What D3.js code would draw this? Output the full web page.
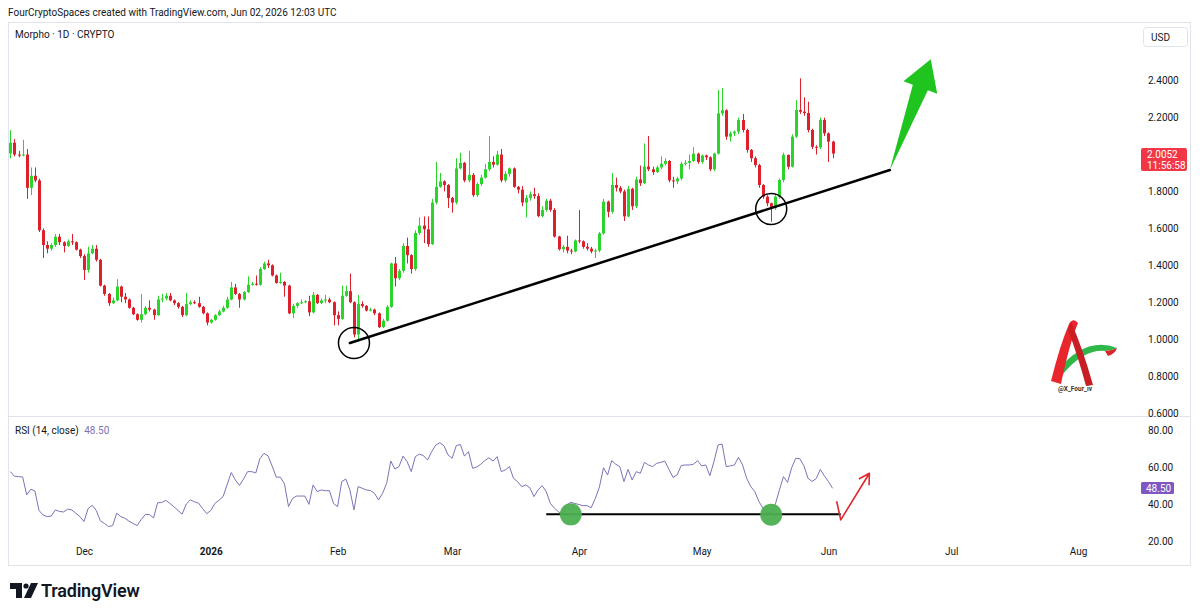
<!DOCTYPE html>
<html>
<head>
<meta charset="utf-8">
<script src="https://cdn.jsdelivr.net/npm/d3@7"></script>
<style>
  body { margin: 0; background: #fff; }
  svg { display: block; font-family: Roboto, "Noto Sans", sans-serif; }
</style>
</head>
<body>
<svg id="chart" width="1200" height="615"></svg>
<script>
// --- Data (daily candles, Morpho / USD) ---
const startDate = "2025-11-13";   // date of the first candle
const firstOpen = 2.006;          // every later open is the previous close

const closes = [
  2.064, 2.0, 1.995, 2.0, 1.82, 1.885, 1.86, 1.59, 1.51, 1.49,
  1.51, 1.555, 1.525, 1.505, 1.53, 1.525, 1.485, 1.45, 1.375, 1.465,
  1.49, 1.43, 1.29, 1.245, 1.195, 1.21, 1.285, 1.23, 1.215, 1.17,
  1.135, 1.105, 1.135, 1.17, 1.16, 1.13, 1.215, 1.22, 1.235, 1.21,
  1.195, 1.175, 1.13, 1.19, 1.2, 1.195, 1.175, 1.14, 1.09, 1.105,
  1.13, 1.15, 1.17, 1.215, 1.28, 1.245, 1.215, 1.255, 1.295, 1.3,
  1.295, 1.38, 1.41, 1.4, 1.345, 1.305, 1.31, 1.29, 1.14, 1.18,
  1.195, 1.2, 1.205, 1.145, 1.24, 1.195, 1.21, 1.215, 1.2, 1.13,
  1.11, 1.235, 1.26, 1.2, 1.025, 1.19, 1.18, 1.155, 1.16, 1.14,
  1.065, 1.1, 1.175, 1.41, 1.33, 1.37, 1.505, 1.455, 1.38, 1.575,
  1.615, 1.595, 1.515, 1.74, 1.825, 1.855, 1.835, 1.765, 1.74, 1.925,
  1.955, 1.86, 1.89, 1.78, 1.84, 1.875, 1.92, 1.96, 1.945, 2.0,
  1.86, 1.895, 1.925, 1.825, 1.81, 1.74, 1.765, 1.785, 1.775, 1.667,
  1.7, 1.75, 1.7, 1.556, 1.487, 1.5, 1.48, 1.475, 1.535, 1.53,
  1.5, 1.49, 1.475, 1.48, 1.573, 1.745, 1.69, 1.835, 1.82, 1.8,
  1.665, 1.815, 1.72, 1.865, 1.845, 1.935, 1.92, 1.905, 1.93, 1.95,
  1.965, 1.86, 1.855, 1.87, 1.95, 1.955, 1.965, 2.005, 1.96, 1.995,
  1.985, 1.92, 2.005, 2.223, 2.24, 2.097, 2.115, 2.124, 2.187, 2.133,
  2.025, 1.98, 1.943, 1.835, 1.772, 1.736, 1.709, 1.772, 1.862, 1.998,
  1.934, 2.097, 2.241, 2.232, 2.225, 2.133, 2.042, 2.039, 2.187, 2.115,
  2.07, 2.0052
];

const highs = [
  2.133, 2.084, 2.02, 2.08, 2.03, 1.93, 1.93, 1.87, 1.6, 1.53,
  1.52, 1.57, 1.57, 1.53, 1.54, 1.57, 1.53, 1.49, 1.46, 1.5,
  1.51, 1.51, 1.435, 1.295, 1.25, 1.225, 1.325, 1.29, 1.25, 1.22,
  1.175, 1.14, 1.245, 1.18, 1.21, 1.165, 1.235, 1.245, 1.25, 1.25,
  1.215, 1.2, 1.18, 1.25, 1.21, 1.21, 1.23, 1.18, 1.145, 1.11,
  1.135, 1.16, 1.18, 1.23, 1.31, 1.3, 1.25, 1.26, 1.34, 1.31,
  1.345, 1.39, 1.42, 1.43, 1.405, 1.35, 1.36, 1.315, 1.295, 1.19,
  1.2, 1.215, 1.21, 1.235, 1.255, 1.245, 1.22, 1.24, 1.225, 1.205,
  1.15, 1.29, 1.29, 1.355, 1.205, 1.24, 1.205, 1.185, 1.17, 1.165,
  1.145, 1.11, 1.185, 1.415, 1.445, 1.38, 1.52, 1.55, 1.46, 1.59,
  1.66, 1.665, 1.665, 1.76, 1.96, 1.9, 1.86, 1.84, 1.77, 1.98,
  2.01, 1.96, 2.02, 1.9, 1.85, 1.89, 1.95, 2.1, 1.99, 2.02,
  2.03, 1.91, 1.93, 1.93, 1.83, 1.83, 1.78, 1.8, 1.82, 1.79,
  1.72, 1.76, 1.76, 1.71, 1.56, 1.51, 1.56, 1.49, 1.54, 1.7,
  1.535, 1.52, 1.5, 1.49, 1.58, 1.76, 1.75, 1.9, 1.875, 1.83,
  1.81, 1.83, 1.82, 1.88, 1.94, 2.06, 2.1, 1.935, 1.94, 1.99,
  1.98, 1.97, 1.88, 1.88, 1.96, 1.97, 2.0, 2.04, 2.01, 2.0,
  2.0, 1.99, 2.01, 2.35, 2.36, 2.245, 2.125, 2.13, 2.2, 2.22,
  2.14, 2.03, 1.99, 1.95, 1.84, 1.78, 1.74, 1.78, 1.87, 2.01,
  2.0, 2.11, 2.295, 2.413, 2.31, 2.286, 2.14, 2.05, 2.2, 2.2,
  2.12, 2.075
];

const lows = [
  1.98, 1.99, 1.985, 1.99, 1.76, 1.78, 1.85, 1.58, 1.44, 1.465,
  1.48, 1.5, 1.51, 1.47, 1.5, 1.51, 1.48, 1.44, 1.32, 1.36,
  1.46, 1.42, 1.285, 1.235, 1.18, 1.19, 1.205, 1.2, 1.195, 1.165,
  1.13, 1.1, 1.09, 1.13, 1.15, 1.105, 1.125, 1.2, 1.21, 1.205,
  1.185, 1.165, 1.12, 1.125, 1.185, 1.19, 1.17, 1.135, 1.075, 1.085,
  1.1, 1.125, 1.145, 1.165, 1.21, 1.24, 1.17, 1.21, 1.25, 1.29,
  1.29, 1.29, 1.375, 1.385, 1.34, 1.3, 1.3, 1.23, 1.135, 1.115,
  1.17, 1.19, 1.195, 1.125, 1.14, 1.19, 1.19, 1.195, 1.195, 1.075,
  1.075, 1.105, 1.23, 1.195, 1.01, 0.985, 1.17, 1.15, 1.15, 1.13,
  1.06, 1.06, 1.095, 1.17, 1.285, 1.32, 1.36, 1.41, 1.355, 1.37,
  1.565, 1.52, 1.5, 1.51, 1.73, 1.82, 1.8, 1.71, 1.685, 1.73,
  1.92, 1.85, 1.85, 1.77, 1.77, 1.83, 1.87, 1.91, 1.93, 1.94,
  1.85, 1.85, 1.88, 1.82, 1.79, 1.72, 1.66, 1.75, 1.76, 1.66,
  1.66, 1.69, 1.69, 1.55, 1.48, 1.47, 1.465, 1.46, 1.47, 1.52,
  1.49, 1.48, 1.465, 1.44, 1.47, 1.565, 1.66, 1.68, 1.8, 1.79,
  1.64, 1.66, 1.7, 1.71, 1.83, 1.84, 1.91, 1.89, 1.9, 1.92,
  1.94, 1.85, 1.82, 1.84, 1.86, 1.94, 1.92, 1.96, 1.95, 1.95,
  1.97, 1.91, 1.91, 2.0, 2.21, 2.08, 2.07, 2.1, 2.11, 2.12,
  2.01, 1.96, 1.93, 1.82, 1.76, 1.72, 1.636, 1.7, 1.76, 1.85,
  1.92, 1.93, 2.09, 2.22, 2.21, 2.12, 2.03, 2.0, 2.03, 2.1,
  1.96, 1.98
];

// RSI (14, close), one value per candle
const rsiValues = [
  57.5, 55, 54.8, 54.6, 45, 48, 47, 36.5, 34, 33.2,
  33.5, 36.8, 36, 35.7, 37.2, 36.8, 35, 33.2, 30.5, 37.5,
  39.3, 36.5, 30.9, 29.5, 27.8, 28.3, 35, 33.2, 32.3, 30.7,
  29.5, 28.3, 31.7, 34.3, 34.3, 32.5, 40.7, 40.8, 42, 40.3,
  38.5, 36.5, 34.5, 40, 42.2, 41.2, 40.5, 37.5, 34.8, 36.5,
  40.3, 42, 44, 50.5, 57, 53, 50, 53.5, 57.5, 57.5,
  56.8, 64.5, 67.4, 66, 60.5, 54.5, 54.5, 51, 38.6, 43.1,
  44.3, 44.3, 44.3, 39.8, 50.3, 46.7, 47.6, 47.2, 47.2, 40.3,
  38.6, 52.1, 53.5, 47.6, 36.8, 49.4, 48.5, 47.6, 47.3, 45.8,
  42.2, 45.8, 51.2, 63.2, 58.9, 60.2, 65.9, 62.9, 57.5, 65.6,
  67, 66.1, 63.8, 68.3, 71.9, 73.1, 71.5, 66.5, 64.7, 71.5,
  72.2, 65.9, 68.3, 59.3, 60, 61.5, 63.5, 65, 63.2, 65.6,
  57.5, 58.4, 60.2, 53.9, 52.1, 49.4, 50.3, 48.8, 44, 47.6,
  49.9, 46.7, 40.4, 37.7, 35.8, 34.5, 39.5, 40.9, 40.3, 39.7,
  39.1, 39.1, 38, 43, 49.2, 59.6, 55.7, 63.4, 61.5, 60.2,
  52.1, 58.7, 53, 57.5, 56.6, 62.5, 61.1, 60.2, 62, 62.5,
  63.2, 58.7, 54.4, 55.7, 60.8, 61.1, 61.1, 61.5, 63.4, 60.6,
  61.1, 55.3, 62.9, 71.9, 72.4, 60.2, 60.6, 61.1, 65.2, 61.1,
  53.9, 49.4, 46.7, 41.3, 37.7, 35.3, 35.5, 39.8, 47.6, 54.8,
  51.7, 59.6, 64.7, 64.5, 60.6, 53.9, 52.2, 53.7, 58.7, 55.2,
  52.1, 48.5
];

// --- Axis ticks ---
const priceTicks = [0.6, 0.8, 1.0, 1.2, 1.4, 1.6, 1.8, 2.0, 2.2, 2.4];
const rsiTicks = [20, 40, 60, 80];
const monthTickDates = ["2025-12-01", "2026-01-01", "2026-02-01", "2026-03-01", "2026-04-01",
                        "2026-05-01", "2026-06-01", "2026-07-01", "2026-08-01"];
const monthTickLabels = ["Dec", "2026", "Feb", "Mar", "Apr", "May", "Jun", "Jul", "Aug"];

// --- Drawings on the chart (date, value) ---
const trendLine = [["2026-02-04", 0.979], ["2026-06-16", 1.916]];
const touchCircles = [["2026-02-05", 0.979], ["2026-05-18", 1.705]];
const bigArrow = [["2026-06-16", 1.916], ["2026-06-26", 2.516]];
const rsiSupport = [["2026-03-24", 34.4], ["2026-06-04", 34.4]];
const rsiDots = [["2026-03-30", 34.4], ["2026-05-18", 34.2]];
const rsiArrow = [["2026-06-03", 41.5], ["2026-06-04", 31.4], ["2026-06-11", 56.6]];

const lastPrice = "2.0052";
const countdown = "11:56:58";
const lastRsi = "48.50";

// --- Colours ---
const upColor = "#2bd42b";
const downColor = "#de1f2c";
const rsiColor = "#7e72b8";
const frameColor = "#e0e3eb";
const textColor = "#131722";

// --- Layout ---
const plotLeft = 8, plotRight = 1141;
const priceTop = 22, priceBottom = 416, rsiBottom = 543;

const parseDate = d3.utcParse("%Y-%m-%d");
const day0 = parseDate(startDate);

const candles = closes.map((c, i) => ({
  date: d3.utcDay.offset(day0, i),
  open: i ? closes[i - 1] : firstOpen,
  high: highs[i],
  low: lows[i],
  close: c,
  rsi: rsiValues[i]
}));

const svg = d3.select("#chart");

// --- Scales ---
const x = d3.scaleUtc()
  .domain([parseDate("2025-12-01"), parseDate("2026-08-01")])
  .range([84, 1078]);
const y = d3.scaleLinear().domain([0.6, 2.4]).range([413, 80.7]);
const yRsi = d3.scaleLinear().domain([20, 80]).range([541, 430]);

const pt = (d, scale) => [x(parseDate(d[0])), scale(d[1])];

// --- Header and frame ---
svg.append("text")
  .attr("x", 8).attr("y", 16)
  .text("FourCryptoSpaces created with TradingView.com, Jun 02, 2026 12:03 UTC")
  .style("font-size", "10px")
  .attr("fill", textColor);

svg.append("rect")
  .attr("x", 8.5).attr("y", 22.5)
  .attr("width", 1182).attr("height", 543)
  .attr("fill", "none")
  .attr("stroke", frameColor);

svg.append("line")
  .attr("x1", 8).attr("x2", 1191)
  .attr("y1", priceBottom + 0.5).attr("y2", priceBottom + 0.5)
  .attr("stroke", frameColor);

svg.append("text")
  .attr("x", 15).attr("y", 38)
  .text("Morpho · 1D · CRYPTO")
  .style("font-size", "10px")
  .attr("fill", textColor);

// --- Clip paths for the panes ---
const defs = svg.append("defs");
defs.append("clipPath").attr("id", "clip-price")
  .append("rect")
  .attr("x", plotLeft).attr("y", priceTop)
  .attr("width", plotRight - plotLeft).attr("height", priceBottom - priceTop);
defs.append("clipPath").attr("id", "clip-rsi")
  .append("rect")
  .attr("x", plotLeft).attr("y", priceBottom)
  .attr("width", plotRight - plotLeft).attr("height", rsiBottom - priceBottom);

// --- Candles ---
const pricePane = svg.append("g").attr("clip-path", "url(#clip-price)");

const candle = pricePane.selectAll("g.candle")
  .data(candles)
  .enter()
  .append("g")
  .attr("class", "candle")
  .attr("fill", d => d.close >= d.open ? upColor : downColor)
  .attr("stroke", d => d.close >= d.open ? upColor : downColor);

candle.append("line")
  .attr("x1", d => Math.round(x(d.date)) + 0.5)
  .attr("x2", d => Math.round(x(d.date)) + 0.5)
  .attr("y1", d => y(d.high))
  .attr("y2", d => y(d.low))
  .attr("stroke-width", 1);

candle.append("rect")
  .attr("x", d => Math.round(x(d.date)) - 1)
  .attr("y", d => y(Math.max(d.open, d.close)))
  .attr("width", 3)
  .attr("height", d => Math.max(1, Math.abs(y(d.open) - y(d.close))))
  .attr("stroke", "none");

// --- Trend line, touch circles, big arrow ---
pricePane.append("line")
  .attr("x1", pt(trendLine[0], y)[0]).attr("y1", pt(trendLine[0], y)[1])
  .attr("x2", pt(trendLine[1], y)[0]).attr("y2", pt(trendLine[1], y)[1])
  .attr("stroke", "#000")
  .attr("stroke-width", 2.5)
  .attr("stroke-linecap", "round");

pricePane.selectAll("circle.touch")
  .data(touchCircles)
  .enter()
  .append("circle")
  .attr("class", "touch")
  .attr("cx", d => pt(d, y)[0])
  .attr("cy", d => pt(d, y)[1])
  .attr("r", 15.5)
  .attr("fill", "none")
  .attr("stroke", "#000")
  .attr("stroke-width", 1.5);

{
  const [tx, ty] = pt(bigArrow[0], y);
  const [hx, hy] = pt(bigArrow[1], y);
  const len = Math.hypot(hx - tx, hy - ty);
  const ux = (hx - tx) / len, uy = (hy - ty) / len;
  const nx = -uy, ny = ux;
  const bx = hx - ux * 30, by = hy - uy * 30;
  const shaft = 8, wing = 18;
  const arrowPts = [
    [tx, ty],
    [bx + nx * shaft, by + ny * shaft],
    [bx + nx * wing, by + ny * wing],
    [hx, hy],
    [bx - nx * wing, by - ny * wing],
    [bx - nx * shaft, by - ny * shaft]
  ];
  pricePane.append("path")
    .attr("d", d3.line()(arrowPts) + "Z")
    .attr("fill", "#1fc41f");
}

// --- Watermark logo ---
const logo = svg.append("g");
logo.append("path")
  .attr("d", "M1058,370 Q1086,336 1117,348 Q1111,351 1105,351 Q1084,349 1063,374 Z")
  .attr("fill", "#2fb84a");
logo.append("path")
  .attr("d", "M1105,351 Q1111,351 1117,348 Q1115,354 1108,356 Z")
  .attr("fill", "#d8262b");
logo.append("path")
  .attr("d", "M1051,381 Q1060,345 1069,324 Q1073,317 1078,323 Q1069,345 1061,384 Z")
  .attr("fill", "#e8262b");
logo.append("path")
  .attr("d", "M1071,322 Q1082,346 1093,385 L1086,386 Q1078,356 1068,330 Z")
  .attr("fill", "#c81e24");
logo.append("text")
  .attr("x", 1075).attr("y", 391)
  .attr("text-anchor", "middle")
  .text("@X_Four_iv")
  .style("font-size", "6.5px")
  .style("font-weight", "bold")
  .attr("fill", "#333");

// --- Price axis ---
svg.append("rect")
  .attr("x", 1143.5).attr("y", 27.5)
  .attr("width", 44).attr("height", 19)
  .attr("rx", 3)
  .attr("fill", "#fff")
  .attr("stroke", frameColor);
svg.append("text")
  .attr("x", 1151).attr("y", 41)
  .text("USD")
  .style("font-size", "10px")
  .attr("fill", textColor);

const priceAxis = svg.append("g")
  .attr("transform", "translate(1143,0)")
  .call(d3.axisRight(y).tickValues(priceTicks).tickFormat(d3.format(".4f")).tickSize(0).tickPadding(5));
priceAxis.select(".domain").remove();
priceAxis.selectAll("text").style("font-size", "10px").attr("fill", textColor)
  .style("font-family", "Roboto, sans-serif");

// last price tag
svg.append("rect")
  .attr("x", 1141).attr("y", 148)
  .attr("width", 46).attr("height", 23)
  .attr("rx", 2)
  .attr("fill", "#f23645");
svg.append("text")
  .attr("x", 1147).attr("y", 158)
  .text(lastPrice)
  .style("font-size", "10px")
  .attr("fill", "#fff");
svg.append("text")
  .attr("x", 1147).attr("y", 168.5)
  .text(countdown)
  .style("font-size", "10px")
  .attr("fill", "#fff");

// --- RSI pane ---
svg.append("text")
  .attr("x", 15).attr("y", 433.5)
  .style("font-size", "10px")
  .call(t => t.append("tspan").attr("fill", textColor).text("RSI (14, close) "))
  .call(t => t.append("tspan").attr("fill", rsiColor).attr("dx", 3).text(lastRsi));

const rsiPane = svg.append("g").attr("clip-path", "url(#clip-rsi)");

rsiPane.append("path")
  .datum(candles)
  .attr("d", d3.line().x(d => x(d.date)).y(d => yRsi(d.rsi)))
  .attr("fill", "none")
  .attr("stroke", rsiColor)
  .attr("stroke-width", 1);

rsiPane.append("line")
  .attr("x1", pt(rsiSupport[0], yRsi)[0]).attr("y1", pt(rsiSupport[0], yRsi)[1])
  .attr("x2", pt(rsiSupport[1], yRsi)[0]).attr("y2", pt(rsiSupport[1], yRsi)[1])
  .attr("stroke", "#000")
  .attr("stroke-width", 2);

rsiPane.selectAll("circle.dot")
  .data(rsiDots)
  .enter()
  .append("circle")
  .attr("class", "dot")
  .attr("cx", d => pt(d, yRsi)[0])
  .attr("cy", d => pt(d, yRsi)[1])
  .attr("r", 11)
  .attr("fill", "#4caf50")
  .attr("fill-opacity", 0.95);

{
  const pts = rsiArrow.map(d => pt(d, yRsi));
  const [px, py] = pts[1];
  const [hx, hy] = pts[2];
  const ang = Math.atan2(hy - py, hx - px);
  const head = 12, spread = Math.PI / 6;
  const w1 = [hx - head * Math.cos(ang - spread), hy - head * Math.sin(ang - spread)];
  const w2 = [hx - head * Math.cos(ang + spread), hy - head * Math.sin(ang + spread)];
  rsiPane.append("path")
    .attr("d", d3.line()(pts) + "M" + w1 + "L" + [hx, hy] + "L" + w2)
    .attr("fill", "none")
    .attr("stroke", "#e0262d")
    .attr("stroke-width", 1.6)
    .attr("stroke-linejoin", "round");
}

const rsiAxis = svg.append("g")
  .attr("transform", "translate(1143,0)")
  .call(d3.axisRight(yRsi).tickValues(rsiTicks).tickFormat(d3.format(".2f")).tickSize(0).tickPadding(5));
rsiAxis.select(".domain").remove();
rsiAxis.selectAll("text").style("font-size", "10px").attr("fill", textColor)
  .style("font-family", "Roboto, sans-serif");

svg.append("rect")
  .attr("x", 1141).attr("y", 482)
  .attr("width", 33).attr("height", 12)
  .attr("rx", 1.5)
  .attr("fill", "#7e57c2");
svg.append("text")
  .attr("x", 1146).attr("y", 491.5)
  .text(lastRsi)
  .style("font-size", "10px")
  .attr("fill", "#fff");

// --- Time axis ---
const timeAxis = svg.append("g")
  .attr("transform", `translate(0,${rsiBottom})`)
  .call(d3.axisBottom(x)
    .tickValues(monthTickDates.map(parseDate))
    .tickFormat((d, i) => monthTickLabels[i])
    .tickSize(0).tickPadding(5));
timeAxis.select(".domain").remove();
timeAxis.selectAll("text")
  .style("font-size", "10px")
  .style("font-family", "Roboto, sans-serif")
  .style("font-weight", (d, i) => monthTickLabels[i] === "2026" ? "bold" : "normal")
  .attr("fill", textColor);

// --- TradingView footer logo ---
const tv = svg.append("g").attr("fill", textColor);
tv.append("path").attr("d", "M10,583 h12 v15 h-6 v-9 h-6 z");
tv.append("circle").attr("cx", 26).attr("cy", 586).attr("r", 2.6);
tv.append("path").attr("d", "M31,583 h7 l-7,15 h-7 z");
tv.append("text")
  .attr("x", 41).attr("y", 597)
  .text("TradingView")
  .style("font-size", "18px")
  .style("font-weight", "600")
  .style("letter-spacing", "-0.2px");
</script>
</body>
</html>
